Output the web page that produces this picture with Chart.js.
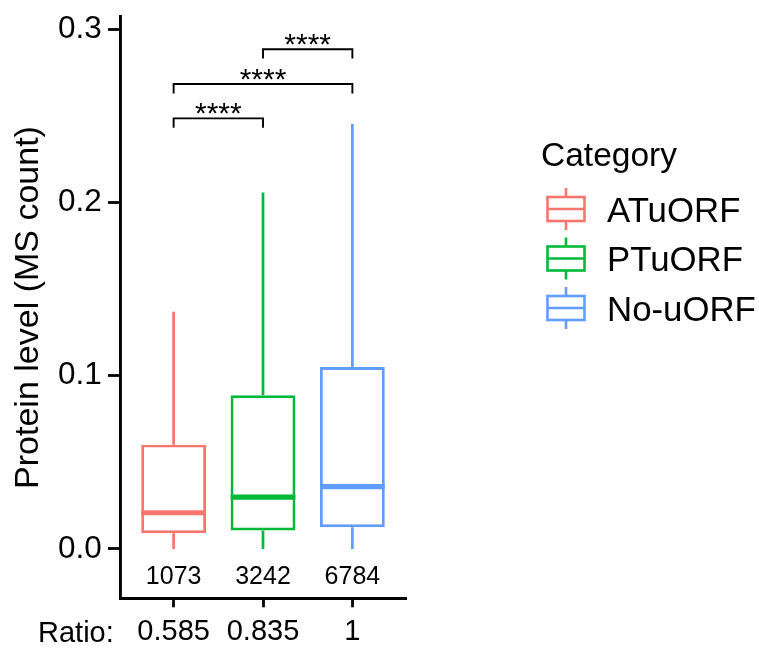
<!DOCTYPE html>
<html><head><meta charset="utf-8">
<script src="https://cdn.jsdelivr.net/npm/chart.js@4/dist/chart.umd.min.js"></script>
<style>html,body{margin:0;padding:0;background:#fff}#wrap{width:759px;height:649px}</style>
</head><body><div id="wrap"><canvas id="c" width="759" height="649"></canvas></div>
<script>
// ---- data ----
const categories = ['ATuORF', 'PTuORF', 'No-uORF'];
const ratioLabels = ['0.585', '0.835', '1'];
const counts = ['1073', '3242', '6784'];
const lowerWhisker = [0.000, 0.000, 0.000];
const q1 = [0.0091, 0.0107, 0.0126];
const median = [0.0209, 0.0299, 0.0360];
const q3 = [0.0602, 0.0888, 0.1051];
const upperWhisker = [0.137, 0.2058, 0.2454];
const yTicks = [0, 0.1, 0.2, 0.3];
const sigPairs = [[1, 2], [1, 3], [2, 3]];
const sigY = [0.2487, 0.2685, 0.2886];
const sigLabels = ['****', '****', '****'];
const colors = ['#F8766D', '#00BA38', '#619CFF'];

const FONT = "'Liberation Sans', Arial, Helvetica, sans-serif";
Chart.defaults.font.family = FONT;
Chart.defaults.color = '#000';

const boxData = categories.map((c, i) => ({ x: i + 1, y: [q1[i], q3[i]] }));

const boxPlugin = {
  id: 'boxExtras',
  afterDatasetsDraw(chart) {
    const ctx = chart.ctx;
    const xs = chart.scales.x, ys = chart.scales.y;
    const meta = chart.getDatasetMeta(0);
    ctx.save();
    categories.forEach((c, i) => {
      const el = meta.data[i];
      const cx = xs.getPixelForValue(i + 1);
      ctx.strokeStyle = colors[i];
      ctx.lineWidth = 2.7;
      ctx.lineCap = 'butt';
      ctx.beginPath();
      ctx.moveTo(cx, ys.getPixelForValue(q3[i]));
      ctx.lineTo(cx, ys.getPixelForValue(upperWhisker[i]));
      ctx.moveTo(cx, ys.getPixelForValue(q1[i]));
      ctx.lineTo(cx, ys.getPixelForValue(lowerWhisker[i]));
      ctx.stroke();
      ctx.lineWidth = 5.2;
      ctx.beginPath();
      const my = ys.getPixelForValue(median[i]);
      ctx.moveTo(el.x - el.width / 2, my);
      ctx.lineTo(el.x + el.width / 2, my);
      ctx.stroke();
    });
    ctx.fillStyle = '#000';
    ctx.font = '25px ' + FONT;
    ctx.textAlign = 'center';
    ctx.textBaseline = 'alphabetic';
    counts.forEach((t, i) => {
      ctx.fillText(t, xs.getPixelForValue(i + 1), 583.5);
    });
    ctx.strokeStyle = '#000';
    ctx.lineWidth = 1.9;
    ctx.font = '30px ' + FONT;
    sigPairs.forEach((p, k) => {
      const x1 = xs.getPixelForValue(p[0]), x2 = xs.getPixelForValue(p[1]);
      const yb = ys.getPixelForValue(sigY[k]);
      const yt = ys.getPixelForValue(sigY[k] - 0.0054);
      ctx.beginPath();
      ctx.moveTo(x1, yt); ctx.lineTo(x1, yb); ctx.lineTo(x2, yb); ctx.lineTo(x2, yt);
      ctx.stroke();
      ctx.fillText(sigLabels[k], (x1 + x2) / 2, yb + 4.5);
    });
    ctx.restore();
  },
  afterDraw(chart) {
    const ctx = chart.ctx;
    ctx.save();
    ctx.fillStyle = '#000';
    ctx.font = '29px ' + FONT;
    ctx.textAlign = 'left';
    ctx.textBaseline = 'alphabetic';
    ctx.fillText('Ratio:', 38, 642);
    ctx.font = '33.5px ' + FONT;
    ctx.fillText('Category', 541, 166);
    const keyCY = [209, 258.5, 308];
    categories.forEach((c, i) => {
      const cx = 566, cy = keyCY[i];
      ctx.strokeStyle = colors[i];
      ctx.lineWidth = 2.6;
      ctx.beginPath();
      ctx.moveTo(cx, cy - 21); ctx.lineTo(cx, cy - 12);
      ctx.moveTo(cx, cy + 12); ctx.lineTo(cx, cy + 21);
      ctx.moveTo(cx - 18.5, cy); ctx.lineTo(cx + 18.5, cy);
      ctx.stroke();
      ctx.strokeRect(cx - 18.5, cy - 12, 37, 24);
      ctx.fillStyle = '#000';
      ctx.font = '34.8px ' + FONT;
      ctx.fillText(c, 607, cy + 12.5);
    });
    ctx.restore();
  }
};

new Chart(document.getElementById('c'), {
  type: 'bar',
  data: {
    datasets: [{
      label: 'box',
      data: boxData,
      backgroundColor: '#ffffff',
      borderColor: colors,
      borderWidth: 2.9,
      borderSkipped: false,
      barPercentage: 0.725,
      categoryPercentage: 1
    }]
  },
  options: {
    responsive: false,
    animation: false,
    events: [],
    layout: { padding: { left: 0, top: 16.7, right: 353, bottom: 0 } },
    plugins: { legend: { display: false }, tooltip: { enabled: false } },
    scales: {
      x: {
        type: 'linear', min: 0.4, max: 3.6, offset: false,
        afterBuildTicks: s => { s.ticks = [1, 2, 3].map(v => ({ value: v })); },
        ticks: { callback: (v, i) => ratioLabels[i], font: { size: 29 }, color: '#000', padding: 7.7, maxRotation: 0, autoSkip: false },
        grid: { display: true, offset: false, drawOnChartArea: false, drawTicks: true, tickLength: 9, tickWidth: 2.8, tickColor: '#000' },
        border: { display: true, color: '#000', width: 2.9 },
        afterFit: s => { s.height = 50.7; s.paddingLeft = 0; s.paddingRight = 0; }
      },
      y: {
        type: 'linear', min: -0.0285, max: 0.3074,
        afterBuildTicks: s => { s.ticks = yTicks.map(v => ({ value: v })); },
        ticks: { callback: v => v.toFixed(1), font: { size: 31.5 }, color: '#000', padding: 6.3 },
        grid: { display: true, drawOnChartArea: false, drawTicks: true, tickLength: 12, tickWidth: 2.8, tickColor: '#000' },
        border: { display: true, color: '#000', width: 2.9 },
        title: { display: true, text: 'Protein level (MS count)', font: { size: 34 }, color: '#000', padding: { top: 8.2, bottom: 0 } },
        afterFit: s => { s.width = 120; s.paddingTop = 0; s.paddingBottom = 0; }
      }
    }
  },
  plugins: [boxPlugin]
});
</script>
</body></html>
